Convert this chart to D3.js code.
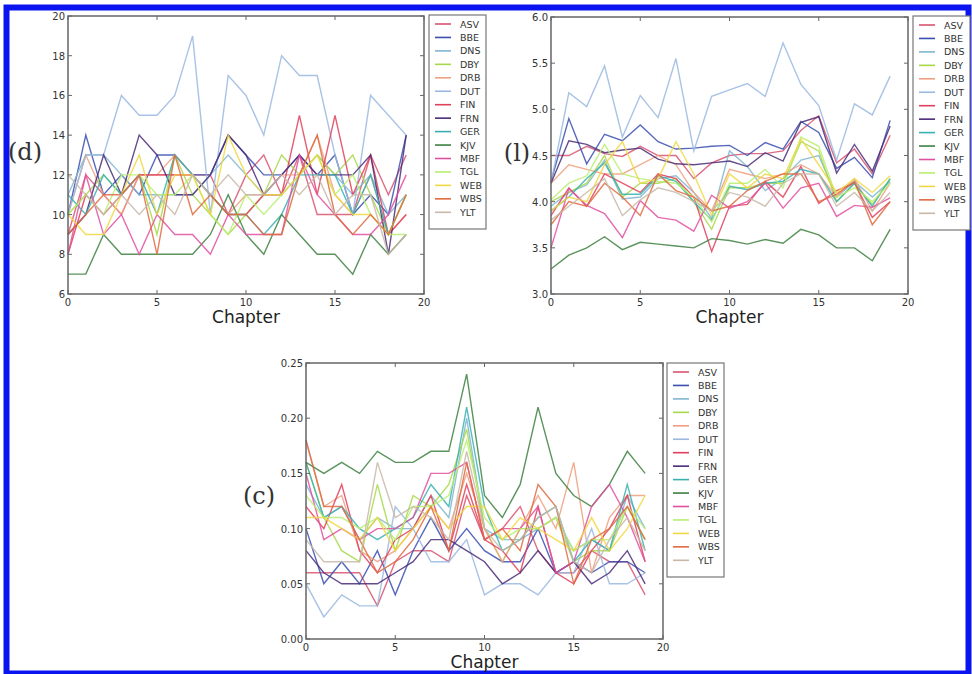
<!DOCTYPE html>
<html>
<meta charset="utf-8">
<head>
  <script src="https://d3js.org/d3.v7.min.js"></script>
  <style>
    body { margin: 0; background: #fff; }
    svg { display: block; }
    .tick-lab { font-family: "DejaVu Sans", sans-serif; font-size: 10px; fill: #333; }
    .xlab { font-family: "DejaVu Sans", sans-serif; font-size: 17px; fill: #222; }
    .panel-lab { font-family: "DejaVu Serif", "Liberation Serif", serif; font-size: 24px; fill: #333; }
    .leg-lab { font-family: "DejaVu Sans", sans-serif; font-size: 9.5px; fill: #333; }
  </style>
</head>
<body>
<script>
// --- data ---
var chapters = d3.range(0, 20);
var names = ["ASV","BBE","DNS","DBY","DRB","DUT","FIN","FRN","GER","KJV","MBF","TGL","WEB","WBS","YLT"];
var colors = ["#d9546e","#3a4fb0","#7fb6d0","#a8d84a","#f0a080","#9ab8e0","#e0405a","#4a2b78",
              "#3ab0b0","#3d8040","#e050a0","#b8ee70","#f0d840","#e06a40","#c8b8a8"];

// panel (d)
var valuesD = [
  [9,12,11,10,12,12,12,12,12,10,12,13,11,13,10,10,10,13,11,13],
  [10,14,11,12,11,13,13,12,12,14,13,12,12,13,12,13,10,11,10,14],
  [11,13,13,12,11,11,11,11,12,13,12,11,11,12,13,12,11,12,10,11],
  [10,11,12,11,12,9,13,11,10,9,10,11,13,12,13,12,13,11,9,11],
  [10,13,11,10,12,12,13,12,11,10,11,11,12,12,14,11,10,12,9,10],
  [10,13,13,16,15,15,16,19,10,17,16,14,18,17,17,13,10,16,15,14],
  [8,11,10,11,12,12,12,12,11,10,10,11,11,15,11,15,11,13,9,10],
  [9,10,13,11,14,13,11,11,12,14,13,11,12,13,12,12,12,13,8,14],
  [11,10,12,11,12,10,13,12,11,10,10,9,10,12,12,12,10,12,9,11],
  [7,7,9,8,8,8,8,8,9,11,9,8,10,9,8,8,7,9,8,9],
  [8,12,9,10,8,10,9,9,8,10,9,9,9,13,11,10,9,9,10,12],
  [10,11,10,12,12,11,11,12,10,9,11,10,11,12,13,11,12,10,9,9],
  [10,9,9,11,13,10,12,12,10,14,12,11,11,12,13,11,10,10,9,11],
  [9,10,11,11,12,8,13,10,11,10,10,9,9,12,14,10,9,10,9,11],
  [12,11,10,11,10,11,10,12,11,12,11,11,12,11,12,10,11,11,8,9]
];

// panel (l)
var valuesL = [
  [4.50,4.50,4.60,4.52,4.49,4.60,4.50,4.50,4.25,4.42,4.50,4.52,4.52,4.55,4.77,4.93,4.42,4.57,4.30,4.72],
  [4.22,4.90,4.41,4.73,4.66,4.83,4.65,4.57,4.58,4.60,4.61,4.50,4.64,4.57,4.87,4.75,4.36,4.48,4.26,4.88],
  [3.95,4.10,4.18,4.45,4.03,4.05,4.25,4.28,4.10,3.82,4.55,4.38,4.12,4.25,4.45,4.50,4.05,4.22,4.05,4.22],
  [4.00,4.10,4.20,4.50,4.05,4.20,4.20,4.25,4.00,3.70,4.15,4.15,4.20,4.20,4.65,4.55,4.00,4.20,3.97,4.25],
  [4.20,4.40,4.35,4.30,4.30,4.40,4.50,4.40,4.10,3.90,4.35,4.30,4.25,4.30,4.40,4.30,4.05,4.25,3.90,4.20],
  [4.20,5.18,5.03,5.47,4.70,5.15,4.91,5.55,4.55,5.14,5.21,5.28,5.14,5.72,5.27,5.04,4.45,5.06,4.94,5.36],
  [3.85,4.15,3.95,4.30,4.20,4.10,4.30,4.25,4.05,3.46,3.95,3.97,4.22,4.05,4.38,3.98,4.12,4.20,3.83,4.00],
  [4.20,4.66,4.62,4.53,4.56,4.58,4.46,4.41,4.40,4.42,4.44,4.38,4.53,4.44,4.86,4.92,4.31,4.62,4.33,4.82],
  [3.90,4.05,4.25,4.42,4.08,4.08,4.28,4.22,4.00,3.80,4.17,4.13,4.20,4.22,4.35,4.30,4.00,4.20,3.95,4.25],
  [3.27,3.42,3.50,3.62,3.48,3.56,3.54,3.52,3.50,3.60,3.58,3.54,3.59,3.55,3.70,3.64,3.50,3.50,3.36,3.70],
  [3.50,4.14,3.96,3.87,3.61,4.01,3.83,3.80,3.68,4.07,3.93,4.00,4.20,3.93,4.15,4.20,3.84,3.96,3.94,4.04],
  [4.02,4.20,4.28,4.62,4.30,4.25,4.22,4.20,4.05,3.78,4.20,4.20,4.35,4.15,4.70,4.60,4.05,4.15,4.00,4.20],
  [3.90,4.05,4.00,4.40,4.65,4.20,4.25,4.65,4.30,3.85,4.30,4.15,4.30,4.25,4.68,4.40,4.10,4.25,4.10,4.28],
  [3.75,4.00,3.95,4.20,4.05,3.85,4.30,4.12,4.05,3.90,3.95,4.12,4.22,4.30,4.30,4.00,4.08,4.22,3.75,4.00],
  [3.80,3.95,4.10,4.25,3.85,4.02,4.15,4.10,4.00,3.90,4.10,4.05,3.95,4.20,4.30,4.30,3.95,4.10,3.90,4.10]
];

// panel (c)
var valuesC = [
  [0.06,0.06,0.06,0.06,0.03,0.07,0.08,0.08,0.07,0.13,0.09,0.10,0.12,0.08,0.06,0.06,0.08,0.07,0.07,0.04],
  [0.10,0.05,0.07,0.05,0.08,0.04,0.08,0.11,0.08,0.10,0.08,0.07,0.07,0.10,0.06,0.07,0.06,0.07,0.07,0.06],
  [0.14,0.11,0.12,0.09,0.11,0.10,0.10,0.13,0.11,0.20,0.10,0.09,0.09,0.10,0.11,0.08,0.09,0.08,0.13,0.10],
  [0.16,0.11,0.08,0.07,0.14,0.08,0.13,0.12,0.14,0.19,0.10,0.07,0.10,0.10,0.11,0.07,0.08,0.08,0.12,0.09],
  [0.18,0.12,0.13,0.08,0.07,0.08,0.10,0.12,0.10,0.15,0.10,0.07,0.10,0.13,0.10,0.16,0.06,0.11,0.13,0.13],
  [0.05,0.02,0.04,0.03,0.03,0.12,0.10,0.07,0.07,0.09,0.04,0.05,0.05,0.04,0.06,0.06,0.10,0.05,0.05,0.06],
  [0.12,0.10,0.14,0.08,0.06,0.09,0.10,0.13,0.08,0.14,0.09,0.08,0.06,0.12,0.06,0.05,0.08,0.10,0.13,0.07],
  [0.08,0.06,0.05,0.05,0.05,0.06,0.07,0.09,0.09,0.08,0.07,0.05,0.06,0.08,0.06,0.07,0.05,0.06,0.08,0.05],
  [0.16,0.11,0.12,0.10,0.09,0.10,0.11,0.14,0.12,0.21,0.12,0.08,0.09,0.11,0.12,0.07,0.09,0.08,0.14,0.08],
  [0.16,0.15,0.16,0.15,0.17,0.16,0.16,0.17,0.17,0.24,0.13,0.11,0.14,0.21,0.15,0.13,0.12,0.14,0.17,0.15],
  [0.15,0.09,0.10,0.09,0.10,0.10,0.11,0.15,0.15,0.16,0.09,0.10,0.10,0.12,0.06,0.07,0.12,0.14,0.11,0.07],
  [0.13,0.11,0.11,0.10,0.11,0.09,0.12,0.12,0.13,0.18,0.11,0.09,0.10,0.10,0.11,0.08,0.09,0.09,0.12,0.10],
  [0.11,0.11,0.10,0.09,0.11,0.08,0.10,0.12,0.10,0.12,0.12,0.09,0.11,0.10,0.09,0.08,0.11,0.08,0.10,0.13],
  [0.18,0.12,0.12,0.09,0.06,0.07,0.09,0.12,0.08,0.16,0.09,0.10,0.08,0.14,0.12,0.05,0.09,0.10,0.12,0.09],
  [0.09,0.07,0.07,0.07,0.16,0.11,0.12,0.11,0.09,0.17,0.10,0.08,0.09,0.11,0.12,0.07,0.06,0.09,0.11,0.08]
];

var ticksD = [6,8,10,12,14,16,18,20];
var ticksL = [3.0,3.5,4.0,4.5,5.0,5.5,6.0];
var ticksC = [0.00,0.05,0.10,0.15,0.20,0.25];
var ticksX = [0,5,10,15,20];

var svg = d3.select("body").append("svg")
    .attr("width", 972)
    .attr("height", 674);

svg.append("rect").attr("width", 972).attr("height", 674).attr("fill", "#fff");

// blue frame round the figure
svg.append("rect")
    .attr("x", 6.5).attr("y", 7.5)
    .attr("width", 962).attr("height", 666)
    .attr("fill", "none")
    .attr("stroke", "#0a14f0")
    .attr("stroke-width", 6);

function drawPanel(p) {
  var g = svg.append("g").attr("transform", "translate(" + p.left + "," + p.top + ")");

  var x = d3.scaleLinear().domain([0, 20]).range([0, p.w]);
  var y = d3.scaleLinear().domain(p.ydom).range([p.h, 0]);

  var line = d3.line()
      .x(function(d, i) { return x(chapters[i]); })
      .y(function(d) { return y(d); });

  g.selectAll("path.series")
    .data(p.values)
    .enter().append("path")
      .attr("class", "series")
      .attr("d", line)
      .attr("fill", "none")
      .attr("stroke", function(d, i) { return colors[i]; })
      .attr("stroke-width", 1.4)
      .attr("stroke-opacity", 0.85);

  // frame
  g.append("rect")
    .attr("width", p.w).attr("height", p.h)
    .attr("fill", "none").attr("stroke", "#666").attr("stroke-width", 1.5);

  // inward ticks on all sides, matplotlib style
  ticksX.forEach(function(t) {
    g.append("line").attr("x1", x(t)).attr("x2", x(t)).attr("y1", p.h).attr("y2", p.h - 4).attr("stroke", "#666");
    g.append("line").attr("x1", x(t)).attr("x2", x(t)).attr("y1", 0).attr("y2", 4).attr("stroke", "#666");
    g.append("text").attr("class", "tick-lab")
      .attr("x", x(t)).attr("y", p.h + 12)
      .attr("text-anchor", "middle").text(t);
  });
  p.ticks.forEach(function(t) {
    g.append("line").attr("x1", 0).attr("x2", 4).attr("y1", y(t)).attr("y2", y(t)).attr("stroke", "#666");
    g.append("line").attr("x1", p.w).attr("x2", p.w - 4).attr("y1", y(t)).attr("y2", y(t)).attr("stroke", "#666");
    g.append("text").attr("class", "tick-lab")
      .attr("x", -3).attr("y", y(t) + 4)
      .attr("text-anchor", "end").text(p.fmt(t));
  });

  g.append("text").attr("class", "xlab")
    .attr("x", p.w / 2).attr("y", p.h + 28.5)
    .attr("text-anchor", "middle").text("Chapter");

  g.append("text").attr("class", "panel-lab")
    .attr("x", p.labX - p.left).attr("y", p.labY - p.top)
    .attr("text-anchor", "middle").text(p.label);

  // legend
  var lg = svg.append("g").attr("transform", "translate(" + p.legX + "," + p.legY + ")");
  lg.append("rect")
    .attr("width", 57).attr("height", 214)
    .attr("fill", "#fff").attr("stroke", "#777").attr("stroke-width", 1.2);
  var item = lg.selectAll("g.item").data(names).enter().append("g")
      .attr("class", "item")
      .attr("transform", function(d, i) { return "translate(0," + (9 + i * 13.45) + ")"; });
  item.append("line")
    .attr("x1", 6).attr("x2", 22)
    .attr("stroke", function(d, i) { return colors[i]; })
    .attr("stroke-width", 1.6);
  item.append("text").attr("class", "leg-lab")
    .attr("x", 31).attr("y", 3.5).text(function(d) { return d; });
}

drawPanel({ left: 68, top: 16, w: 356, h: 278, ydom: [6, 20], ticks: ticksD, values: valuesD,
            fmt: d3.format("d"), label: "(d)", labX: 25, labY: 160, legX: 429, legY: 15 });
drawPanel({ left: 551, top: 17, w: 357, h: 277, ydom: [3, 6], ticks: ticksL, values: valuesL,
            fmt: d3.format(".1f"), label: "(l)", labX: 517, labY: 161, legX: 913, legY: 16 });
drawPanel({ left: 306, top: 363, w: 357, h: 276, ydom: [0, 0.25], ticks: ticksC, values: valuesC,
            fmt: d3.format(".2f"), label: "(c)", labX: 259, labY: 504, legX: 667, legY: 363 });
</script>
</body>
</html>
